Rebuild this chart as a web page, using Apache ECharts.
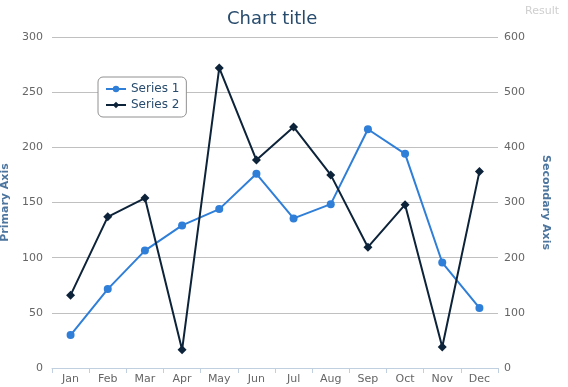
<!DOCTYPE html>
<html><head><meta charset="utf-8">
<script src="https://cdn.jsdelivr.net/npm/echarts@6/dist/echarts.min.js"></script>
<style>html,body{margin:0;padding:0;background:#fff}#c{width:568px;height:387px}</style>
</head><body><div id="c"></div>
<script>
var categories = ['Jan','Feb','Mar','Apr','May','Jun','Jul','Aug','Sep','Oct','Nov','Dec'];
var series1 = [29.9, 71.5, 106.4, 129.2, 144.0, 176.0, 135.6, 148.5, 216.4, 194.1, 95.6, 54.4];
var series2 = [132, 274, 308, 33, 544, 377, 437, 350, 219, 296, 38, 356];
var primaryTicks = [0, 50, 100, 150, 200, 250, 300];
var secondaryTicks = [0, 100, 200, 300, 400, 500, 600];

var font = 'DejaVu Sans';
var chart = echarts.init(document.getElementById('c'));
chart.setOption({
  animation: false,
  textStyle: {fontFamily: font},
  title: [{
    text: 'Chart title', left: 222, top: 5,
    textStyle: {fontFamily: font, fontSize: 18, fontWeight: 'normal', color: '#274b6d'}
  }, {
    text: 'Result', right: 4, top: 1,
    textStyle: {fontFamily: font, fontSize: 11, fontWeight: 'normal', color: '#cfcfcf'}
  }],
  legend: {
    left: 98, top: 77, orient: 'vertical', itemGap: 4, itemWidth: 20, itemHeight: 8,
    padding: [6, 7, 6, 7],
    borderColor: '#909090', borderWidth: 1, borderRadius: 5, backgroundColor: '#fff',
    textStyle: {fontFamily: font, fontSize: 12, color: '#274b6d'},
    data: ['Series 1', 'Series 2']
  },
  grid: {left: 52, right: 70, top: 37, bottom: 19, outerBoundsMode: 'none', containLabel: false},
  xAxis: {
    type: 'category', data: categories, boundaryGap: true,
    axisLine: {lineStyle: {color: '#c0d0e0'}},
    axisTick: {show: true, length: 5, lineStyle: {color: '#c0d0e0'}},
    axisLabel: {color: '#666', fontSize: 11, margin: 6, fontFamily: font}
  },
  yAxis: [{
    type: 'value', min: 0, max: 300, interval: 50, position: 'left',
    name: 'Primary Axis', nameLocation: 'middle', nameGap: 37, nameRotate: 90,
    nameTextStyle: {color: '#4d759e', fontWeight: 'bold', fontSize: 11, fontFamily: font},
    axisLine: {show: false}, axisTick: {show: false},
    axisLabel: {color: '#666', fontSize: 11, margin: 9, fontFamily: font},
    splitLine: {lineStyle: {color: '#c0c0c0'}}
  }, {
    type: 'value', min: 0, max: 600, interval: 100, position: 'right',
    name: 'Secondary Axis', nameLocation: 'middle', nameGap: 42, nameRotate: -90,
    nameTextStyle: {color: '#4d759e', fontWeight: 'bold', fontSize: 11, fontFamily: font},
    axisLine: {show: false}, axisTick: {show: false},
    axisLabel: {color: '#666', fontSize: 11, margin: 6, fontFamily: font},
    splitLine: {show: false}
  }],
  series: [{
    name: 'Series 1', type: 'line', yAxisIndex: 0, data: series1,
    symbol: 'circle', symbolSize: 8,
    itemStyle: {color: '#2f7ed8'}, lineStyle: {width: 2, color: '#2f7ed8'}
  }, {
    name: 'Series 2', type: 'line', yAxisIndex: 1, data: series2,
    symbol: 'diamond', symbolSize: 9,
    itemStyle: {color: '#0d233a'}, lineStyle: {width: 2, color: '#0d233a'}
  }]
});
</script>
</body></html>
